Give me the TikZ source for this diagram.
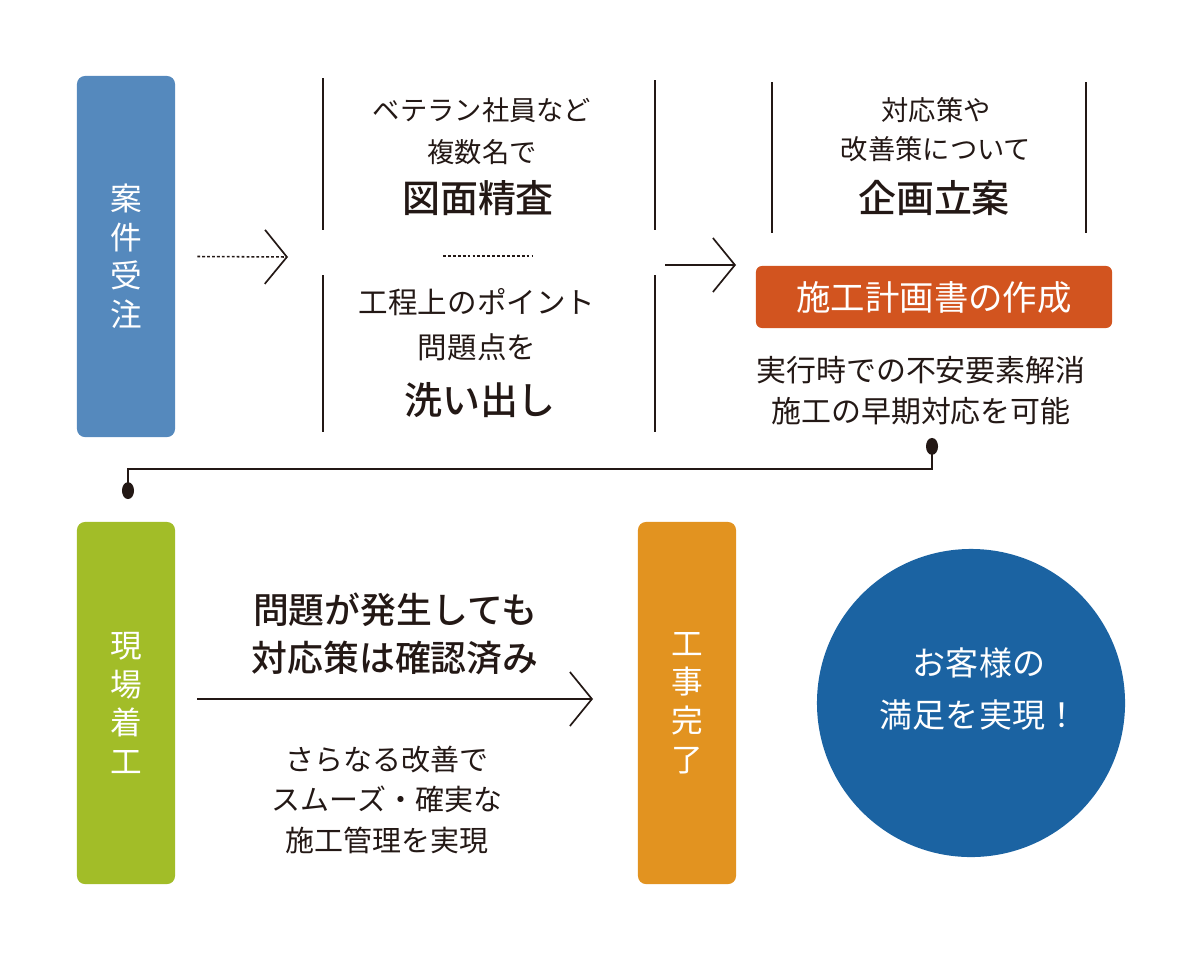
\documentclass[tikz,border=0pt]{standalone}
\usepackage{fontspec}
\setmainfont{Noto Sans CJK JP}[BoldFont={Noto Sans CJK JP Medium}]
\usetikzlibrary{arrows.meta}
\definecolor{ink}{HTML}{231815}
\definecolor{steel}{HTML}{5589BD}
\definecolor{leaf}{HTML}{A2BD28}
\definecolor{amber}{HTML}{E29320}
\definecolor{rust}{HTML}{D2541F}
\definecolor{deepblue}{HTML}{1B63A2}
\tikzset{
  stage/.style={rounded corners=2mm, minimum width=2.45cm, minimum height=9.05cm,
    text=white, align=center, font=\fontsize{22.5}{27.4}\selectfont},
  planbox/.style={rounded corners=1.5mm, fill=rust, minimum width=8.9cm, minimum height=1.55cm,
    text=white, font=\fontsize{24.5}{28}\selectfont},
  goal/.style={circle, fill=deepblue, minimum size=7.7cm, inner sep=0pt},
  goaltext/.style={text=white, align=center, font=\fontsize{23.5}{37}\selectfont},
  note/.style={text=ink, align=center, font=\fontsize{19.4}{29.9}\selectfont},
  keyword/.style={text=ink, font=\fontsize{27}{30}\selectfont\bfseries},
  divider/.style={draw=ink, line width=.9pt},
  flow/.style={draw=ink, line width=1pt, -{Straight Barb[length=5.5mm, width=13.5mm, line width=1.2pt]}},
  dotflow/.style={flow, line width=1.1pt, dash pattern=on 2pt off 1.5pt},
  link/.style={draw=ink, line width=1.7pt, {Circle[length=4.2mm, width=3mm]}-{Circle[length=4.2mm, width=3mm]}}
}
\begin{document}
\begin{tikzpicture}[x=0.025cm,y=-0.025cm]
  \useasboundingbox (0,0) rectangle (1200,960);

  \node[stage, fill=steel, minimum height=9.025cm] (order) at (126,256.5) {案\\件\\受\\注};

  \draw[divider] (323,78) -- (323,230) (323,275) -- (323,432);
  \draw[divider] (655,80) -- (655,230) (655,275) -- (655,432);
  \draw[divider] (772,82) -- (772,233) (1086,82) -- (1086,233);
  \draw[divider, line width=1.1pt, dash pattern=on 2pt off 1.5pt] (443,256) -- (533,256);

  \node[note] (veteran) at (482,131) {ベテラン社員など\\複数名で};
  \node[keyword] (review) at (478,198) {図面精査};
  \node[note, font=\fontsize{21}{32}\selectfont] (points) at (477,324.5) {工程上のポイント\\問題点を};
  \node[keyword] (extract) at (480,400) {洗い出し};

  \node[note, font=\fontsize{19.4}{27.7}\selectfont] (measures) at (936,129.5) {対応策や\\改善策について};
  \node[keyword] (planning) at (934,198) {企画立案};
  \node[planbox] (plan) at (934,297) {施工計画書の作成};
  \node[note, font=\fontsize{21.3}{29}\selectfont] (effect) at (921,390.5) {実行時での不安要素解消\\施工の早期対応を可能};

  \coordinate (review in) at (288,257);
  \draw[dotflow] ([xshift=5.5mm]order.east) -- (review in);
  \coordinate (plan from) at (665,265);
  \coordinate (plan in) at (736,265);
  \draw[flow] (plan from) -- (plan in);

  \node[stage, fill=leaf] (start) at (126,703) {現\\場\\着\\工};
  \node[stage, fill=amber] (done) at (687,703) {工\\事\\完\\了};

  \coordinate (effect tip) at (932,438);
  \coordinate (start tip) at (128,499);
  \draw[link] (effect tip) -- ++(0,31) -| (start tip);

  \node[note, font=\fontsize{25.5}{34}\selectfont\bfseries] (ready) at (395,634) {問題が発生しても\\対応策は確認済み};
  \coordinate (site from) at (197,699);
  \coordinate (done in) at (593,699);
  \draw[flow, line width=2.1pt] (site from) -- (done in);
  \node[note, font=\fontsize{20.6}{28.5}\selectfont] (improve) at (387,800) {さらなる改善で\\スムーズ・確実な\\施工管理を実現};

  \node[goal] (goal) at (971,703) {};
  \node[goaltext] (satisfy) at ([xshift=2mm,yshift=3.5mm]goal.center) {お客様の\\満足を実現！};
\end{tikzpicture}
\end{document}
